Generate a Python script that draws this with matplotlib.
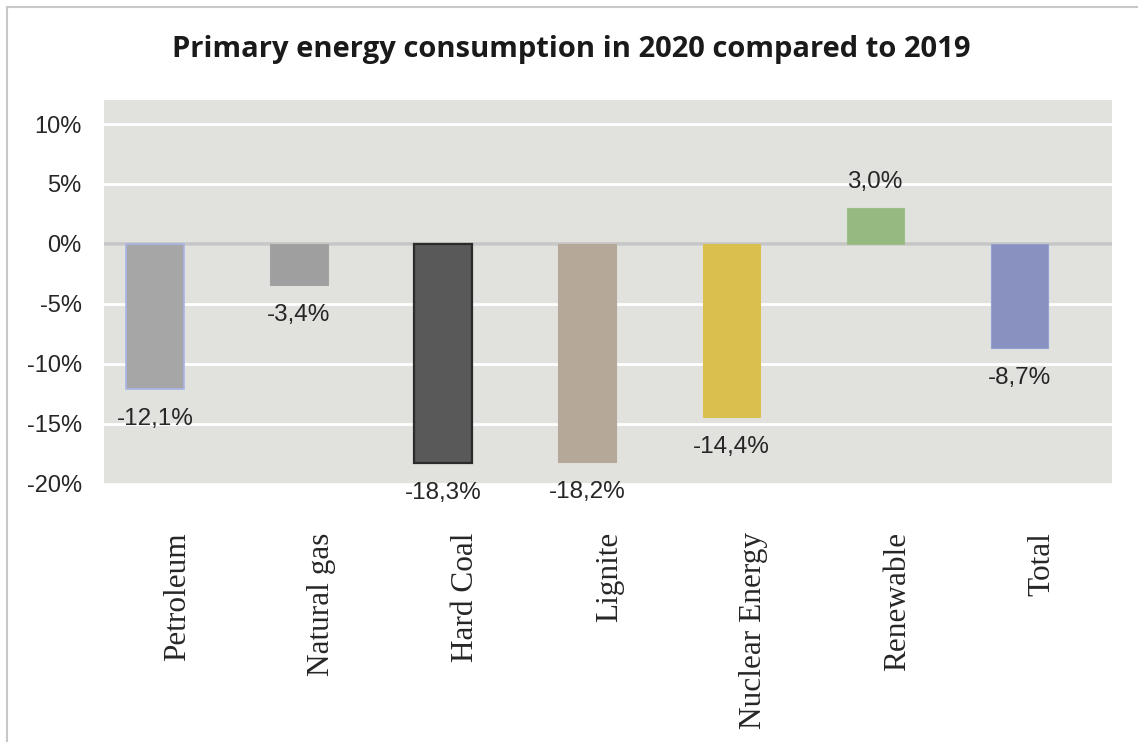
import numpy as np
import matplotlib as mpl

mpl.use('agg')

import matplotlib.pyplot as plt
from matplotlib.transforms import ScaledTranslation
from matplotlib.lines import Line2D

categories = ['Petroleum', 'Natural gas', 'Hard Coal', 'Lignite',
              'Nuclear Energy', 'Renewable', 'Total']
change_pct = [-12.1, -3.4, -18.3, -18.2, -14.4, 3.0, -8.7]
value_labels = ['-12,1%', '-3,4%', '-18,3%', '-18,2%', '-14,4%', '3,0%', '-8,7%']
yticks = [-20, -15, -10, -5, 0, 5, 10]

face_colors = ['#a6a6a6', '#9f9f9f', '#595959', '#b5a898', '#d9c04e', '#95b97f', '#8891c0']
edge_colors = ['#a9b4e6', '#a3a3a3', '#2b2b2b', '#b5a898', '#d9c04e', '#9cbf88', '#94a0cf']
edge_widths = [1.2, 0.8, 1.6, 0.8, 0.8, 0.8, 0.8]

fig = plt.figure(figsize=(11.38, 7.42), dpi=100)
ax = fig.add_axes([0.0914, 0.3464, 0.8858, 0.5188])

x = np.arange(len(categories))
ax.set_facecolor('#e1e2de')
ax.set_xlim(-0.5, len(categories) - 0.5)
ax.set_ylim(-20.1, 12)

ax.set_yticks(yticks)
ax.set_yticklabels([f'{t}%' for t in yticks], fontsize=17,
                   family='Liberation Sans', color='#262626')
ax.yaxis.grid(True, color='white', linewidth=2)
ax.set_axisbelow(True)
ax.tick_params(axis='both', length=0)
ax.tick_params(axis='y', pad=16)
for s in ax.spines.values():
    s.set_visible(False)

bars = ax.bar(x - 0.146, change_pct, width=0.396, color=face_colors,
              edgecolor=edge_colors, linewidth=edge_widths, zorder=3)
ax.axhline(0, color='#c6c6c6', linewidth=2.6, zorder=2)

for b, v, lab in zip(bars, change_pct, value_labels):
    cx = b.get_x() + b.get_width() / 2
    off = 26 if v > 0 else -30
    ax.annotate(lab, (cx, v), xytext=(0, off), textcoords='offset pixels',
                ha='center', va='center', fontsize=17.5,
                family='Liberation Sans', color='#262626', zorder=4)

ax.set_xticks(x)
ax.set_xticklabels(categories, rotation=90, fontsize=22.5,
                   family='Liberation Serif', color='#262626', va='top')
ax.tick_params(axis='x', pad=34)
shift = ScaledTranslation(1 / 72, 0, fig.dpi_scale_trans)
for lbl in ax.get_xticklabels():
    lbl.set_transform(lbl.get_transform() + shift)

fig.text(0.502, 0.933, 'Primary energy consumption in 2020 compared to 2019',
         ha='center', va='center', fontsize=21, fontweight='bold',
         family='Open Sans', color='#1a1a1a')

# frame lines along the top and left edges
fig.add_artist(Line2D([7 / 1138, 7 / 1138], [0, 1 - 7 / 742],
                      transform=fig.transFigure, color='#c8c8c8', linewidth=1.5))
fig.add_artist(Line2D([7 / 1138, 1], [1 - 7 / 742, 1 - 7 / 742],
                      transform=fig.transFigure, color='#c8c8c8', linewidth=1.5))

fig.savefig('out.png', dpi=100)
